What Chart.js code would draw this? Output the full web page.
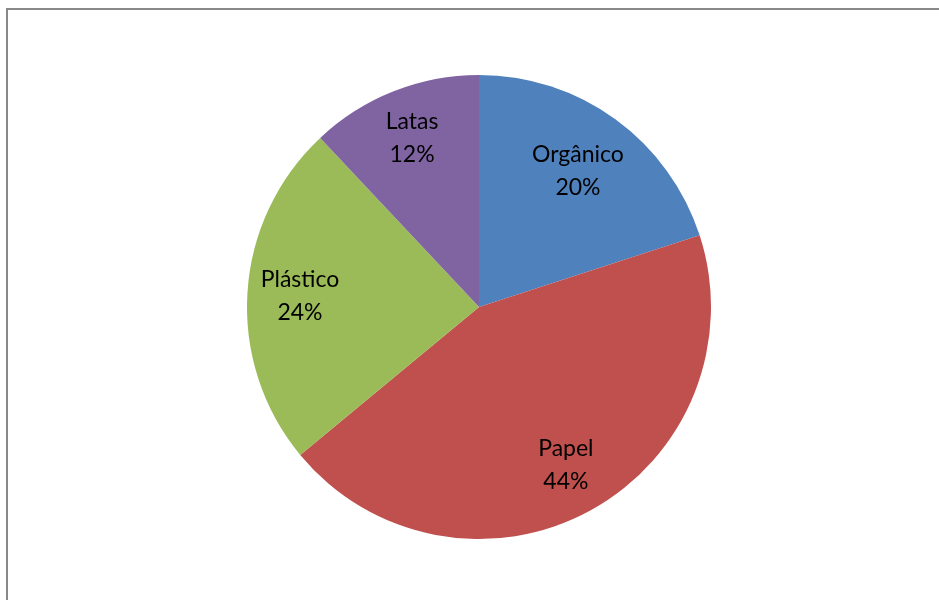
<!DOCTYPE html>
<html>
<head>
<meta charset="utf-8">
<script src="https://cdn.jsdelivr.net/npm/chart.js@4"></script>
<style>
  html, body { margin: 0; padding: 0; background: #fff; }
  #wrap { position: relative; width: 939px; height: 600px; }
</style>
</head>
<body>
<div id="wrap"><canvas id="c" width="939" height="600"></canvas></div>
<script>
const categories = ['Orgânico', 'Papel', 'Plástico', 'Latas'];
const shares = [20, 44, 24, 12];
const sliceColors = ['#4F81BD', '#C0504D', '#9BBB59', '#8064A2'];

// Grey frame along the top and left edges of the chart area
const framePlugin = {
  id: 'frame',
  beforeDraw(chart) {
    const ctx = chart.ctx;
    ctx.save();
    ctx.strokeStyle = '#888888';
    ctx.lineWidth = 2;
    ctx.beginPath();
    ctx.moveTo(7, 600);
    ctx.lineTo(7, 9);
    ctx.lineTo(939, 9);
    ctx.stroke();
    ctx.restore();
  }
};

// Category name and percentage inside each slice; the label block is pushed
// outward along the slice bisector until its outer corner nears the rim.
const sliceLabels = {
  id: 'sliceLabels',
  afterDatasetsDraw(chart) {
    const ctx = chart.ctx;
    const meta = chart.getDatasetMeta(0);
    const data = chart.data.datasets[0].data;
    const total = data.reduce((a, b) => a + b, 0);
    const lineGap = 33;
    ctx.save();
    ctx.fillStyle = '#000';
    ctx.font = '23px Lato, "Open Sans", sans-serif';
    ctx.textAlign = 'center';
    ctx.textBaseline = 'middle';
    meta.data.forEach((arc, i) => {
      const p = arc.getProps(['x', 'y', 'startAngle', 'endAngle', 'outerRadius'], true);
      const mid = (p.startAngle + p.endAngle) / 2;
      const c = Math.cos(mid), s = Math.sin(mid);
      const name = chart.data.labels[i];
      const pct = Math.round(data[i] / total * 100) + '%';
      const halfW = Math.max(ctx.measureText(name).width, ctx.measureText(pct).width) / 2;
      const halfH = lineGap;
      const a = Math.sign(c) * halfW, b = Math.sign(s) * halfH;
      const D = p.outerRadius * 0.96;
      const k = c * a + s * b;
      const t = -k + Math.sqrt(k * k - (a * a + b * b - D * D));
      const x = p.x + c * t;
      const y = p.y + s * t;
      ctx.fillText(name, x, y - lineGap / 2);
      ctx.fillText(pct, x, y + lineGap / 2);
    });
    ctx.restore();
  }
};

new Chart(document.getElementById('c'), {
  type: 'pie',
  data: {
    labels: categories,
    datasets: [{
      data: shares,
      backgroundColor: sliceColors,
      borderWidth: 0
    }]
  },
  options: {
    responsive: false,
    animation: false,
    layout: { padding: { top: 75, bottom: 61, left: 20, right: 1 } },
    plugins: {
      legend: { display: false },
      tooltip: { enabled: false }
    }
  },
  plugins: [framePlugin, sliceLabels]
});
</script>
</body>
</html>
